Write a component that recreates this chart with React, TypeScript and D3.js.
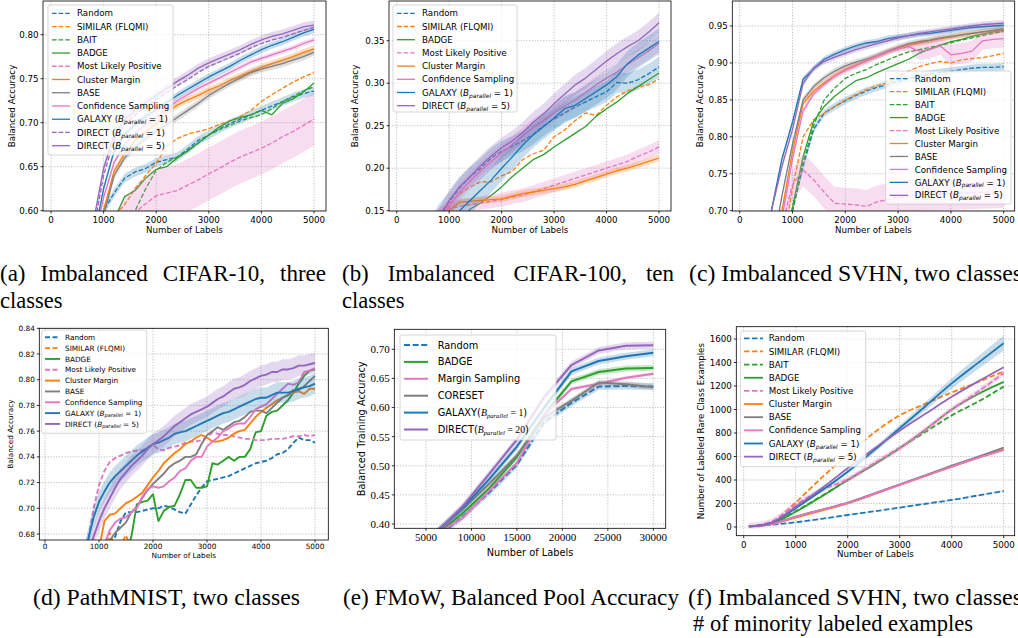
import React from 'react';
import * as d3 from 'd3';

const BLUE = '#1f77b4';
const ORANGE = '#ff7f0e';
const GREEN = '#2ca02c';
const PINK = '#e377c2';
const GRAY = '#7f7f7f';
const PURPLE = '#9467bd';

const SERIF = "'Liberation Serif', 'Times New Roman', Times, serif";
const SANS = "'DejaVu Sans', sans-serif";

const L_RANDOM = 'Random';
const L_SIMILAR = 'SIMILAR (FLQMI)';
const L_BAIT = 'BAIT';
const L_BADGE = 'BADGE';
const L_MLP = 'Most Likely Positive';
const L_CLUSTER = 'Cluster Margin';
const L_BASE = 'BASE';
const L_CONF = 'Confidence Sampling';
const L_GALAXY = 'GALAXY (B_parallel = 1)';
const L_DIRECT1 = 'DIRECT (B_parallel = 1)';
const L_DIRECT5 = 'DIRECT (B_parallel = 5)';

// ---------- shared x grid (a, b, c) ----------
const x200 = [600, 800, 1000, 1200, 1400, 1600, 1800, 2000, 2200, 2400, 2600, 2800, 3000, 3200, 3400, 3600, 3800, 4000, 4200, 4400, 4600, 4800, 5000];
const ticks0to5000 = [0, 1000, 2000, 3000, 4000, 5000];

// ---------- (a) Imbalanced CIFAR-10 ----------
const aRandom = [0.50, 0.55, 0.60, 0.62, 0.637, 0.644, 0.648, 0.655, 0.658, 0.661, 0.670, 0.680, 0.686, 0.693, 0.699, 0.704, 0.709, 0.714, 0.719, 0.724, 0.729, 0.733, 0.736];
const aSimilar = [0.45, 0.50, 0.55, 0.594, 0.607, 0.625, 0.640, 0.654, 0.673, 0.682, 0.687, 0.690, 0.693, 0.698, 0.702, 0.707, 0.714, 0.724, 0.732, 0.739, 0.746, 0.752, 0.757];
const aBait = [0.40, 0.44, 0.48, 0.52, 0.56, 0.60, 0.625, 0.646, 0.655, 0.661, 0.668, 0.677, 0.686, 0.692, 0.697, 0.702, 0.706, 0.709, 0.716, 0.724, 0.730, 0.736, 0.741];
const aBadge = [0.45, 0.50, 0.55, 0.59, 0.616, 0.623, 0.637, 0.647, 0.650, 0.660, 0.668, 0.677, 0.686, 0.695, 0.702, 0.706, 0.709, 0.714, 0.709, 0.722, 0.727, 0.735, 0.745];
const aMLP = [0.50, 0.52, 0.54, 0.56, 0.585, 0.598, 0.608, 0.617, 0.620, 0.623, 0.629, 0.635, 0.642, 0.648, 0.655, 0.661, 0.666, 0.671, 0.677, 0.684, 0.690, 0.697, 0.704];
const aCluster = [0.48, 0.54, 0.60, 0.645, 0.665, 0.680, 0.690, 0.699, 0.712, 0.720, 0.726, 0.731, 0.737, 0.742, 0.748, 0.753, 0.758, 0.763, 0.767, 0.771, 0.775, 0.780, 0.784];
const aBase = [0.47, 0.53, 0.595, 0.64, 0.66, 0.672, 0.682, 0.690, 0.698, 0.706, 0.714, 0.722, 0.731, 0.738, 0.745, 0.751, 0.757, 0.761, 0.764, 0.767, 0.771, 0.775, 0.780];
const aConf = [0.50, 0.56, 0.615, 0.655, 0.675, 0.688, 0.698, 0.706, 0.716, 0.725, 0.732, 0.739, 0.745, 0.751, 0.757, 0.763, 0.769, 0.773, 0.777, 0.781, 0.785, 0.790, 0.794];
const aGalaxy = [0.50, 0.565, 0.625, 0.668, 0.687, 0.698, 0.707, 0.715, 0.723, 0.731, 0.738, 0.745, 0.752, 0.758, 0.764, 0.771, 0.777, 0.783, 0.788, 0.792, 0.797, 0.802, 0.806];
const aDirect1 = [0.51, 0.575, 0.64, 0.68, 0.698, 0.709, 0.718, 0.726, 0.734, 0.742, 0.749, 0.757, 0.764, 0.769, 0.774, 0.779, 0.785, 0.790, 0.794, 0.797, 0.801, 0.805, 0.808];
const aDirect5 = [0.52, 0.585, 0.648, 0.686, 0.703, 0.714, 0.723, 0.731, 0.739, 0.747, 0.754, 0.762, 0.768, 0.773, 0.778, 0.783, 0.789, 0.794, 0.798, 0.801, 0.805, 0.809, 0.811];

// ---------- (b) Imbalanced CIFAR-100 ----------
const bRandom = [0.125, 0.145, 0.160, 0.177, 0.190, 0.200, 0.212, 0.220, 0.226, 0.232, 0.240, 0.250, 0.258, 0.265, 0.272, 0.278, 0.284, 0.290, 0.301, 0.300, 0.304, 0.311, 0.319];
const bSimilar = [0.12, 0.14, 0.158, 0.170, 0.178, 0.184, 0.184, 0.191, 0.196, 0.210, 0.217, 0.221, 0.237, 0.245, 0.256, 0.265, 0.262, 0.274, 0.284, 0.291, 0.296, 0.298, 0.305];
const bBadge = [0.09, 0.10, 0.115, 0.135, 0.152, 0.159, 0.168, 0.178, 0.190, 0.200, 0.210, 0.216, 0.225, 0.233, 0.241, 0.249, 0.261, 0.270, 0.278, 0.288, 0.296, 0.304, 0.312];
const bMLP = [0.13, 0.145, 0.153, 0.155, 0.157, 0.159, 0.161, 0.163, 0.166, 0.168, 0.172, 0.176, 0.180, 0.184, 0.188, 0.192, 0.196, 0.200, 0.204, 0.208, 0.214, 0.219, 0.225];
const bCluster = [0.12, 0.135, 0.150, 0.160, 0.161, 0.162, 0.163, 0.164, 0.167, 0.170, 0.172, 0.174, 0.176, 0.178, 0.181, 0.185, 0.189, 0.193, 0.197, 0.200, 0.204, 0.208, 0.212];
const bConf = [0.125, 0.14, 0.155, 0.172, 0.185, 0.197, 0.208, 0.218, 0.228, 0.238, 0.248, 0.256, 0.265, 0.273, 0.280, 0.289, 0.298, 0.306, 0.313, 0.322, 0.330, 0.338, 0.347];
const bGalaxy = [0.11, 0.125, 0.135, 0.150, 0.162, 0.174, 0.186, 0.200, 0.213, 0.227, 0.239, 0.249, 0.259, 0.270, 0.274, 0.282, 0.290, 0.298, 0.308, 0.323, 0.333, 0.341, 0.349];
const bDirect5 = [0.125, 0.14, 0.162, 0.178, 0.190, 0.203, 0.214, 0.224, 0.232, 0.242, 0.254, 0.264, 0.276, 0.287, 0.298, 0.306, 0.316, 0.326, 0.335, 0.343, 0.350, 0.360, 0.371];

// ---------- (c) Imbalanced SVHN ----------
const cRandom = [0.55, 0.62, 0.70, 0.76, 0.81, 0.832, 0.841, 0.849, 0.856, 0.862, 0.867, 0.871, 0.875, 0.879, 0.882, 0.885, 0.887, 0.889, 0.891, 0.893, 0.894, 0.894, 0.895];
const cSimilar = [0.58, 0.65, 0.73, 0.800, 0.823, 0.832, 0.841, 0.850, 0.857, 0.864, 0.869, 0.873, 0.882, 0.889, 0.895, 0.899, 0.902, 0.900, 0.904, 0.906, 0.907, 0.910, 0.913];
const cBait = [0.55, 0.62, 0.70, 0.765, 0.815, 0.850, 0.866, 0.879, 0.886, 0.891, 0.898, 0.904, 0.910, 0.915, 0.918, 0.921, 0.924, 0.927, 0.931, 0.934, 0.937, 0.940, 0.943];
const cBadge = [0.58, 0.65, 0.705, 0.773, 0.821, 0.841, 0.855, 0.866, 0.876, 0.880, 0.887, 0.893, 0.899, 0.905, 0.913, 0.919, 0.924, 0.929, 0.932, 0.936, 0.939, 0.942, 0.944];
const cMLP = [0.62, 0.68, 0.735, 0.755, 0.742, 0.725, 0.710, 0.709, 0.708, 0.706, 0.712, 0.715, 0.718, 0.720, 0.722, 0.722, 0.723, 0.723, 0.724, 0.724, 0.725, 0.725, 0.726];
const cCluster = [0.62, 0.70, 0.78, 0.845, 0.862, 0.873, 0.883, 0.891, 0.897, 0.903, 0.909, 0.915, 0.920, 0.924, 0.927, 0.930, 0.933, 0.935, 0.938, 0.940, 0.942, 0.943, 0.945];
const cBase = [0.64, 0.72, 0.79, 0.850, 0.868, 0.880, 0.889, 0.896, 0.901, 0.905, 0.910, 0.916, 0.921, 0.926, 0.929, 0.931, 0.934, 0.936, 0.938, 0.940, 0.942, 0.944, 0.946];
const cConf = [0.61, 0.69, 0.77, 0.835, 0.858, 0.871, 0.882, 0.890, 0.896, 0.903, 0.909, 0.915, 0.919, 0.922, 0.916, 0.918, 0.923, 0.911, 0.913, 0.916, 0.930, 0.932, 0.933];
const cConfBand = [0.004, 0.004, 0.004, 0.004, 0.004, 0.004, 0.004, 0.004, 0.004, 0.004, 0.004, 0.004, 0.004, 0.005, 0.012, 0.012, 0.012, 0.014, 0.014, 0.014, 0.012, 0.012, 0.012];
const cGalaxy = [0.70, 0.77, 0.82, 0.878, 0.892, 0.905, 0.912, 0.918, 0.923, 0.927, 0.929, 0.933, 0.935, 0.937, 0.939, 0.940, 0.942, 0.944, 0.946, 0.948, 0.949, 0.950, 0.951];
const cDirect5 = [0.70, 0.76, 0.81, 0.872, 0.893, 0.902, 0.908, 0.913, 0.918, 0.922, 0.926, 0.930, 0.934, 0.937, 0.940, 0.942, 0.944, 0.946, 0.948, 0.950, 0.952, 0.953, 0.954];

// ---------- (d) PathMNIST ----------
const xD = [700, 800, 900, 1000, 1100, 1200, 1300, 1400, 1500, 1600, 1700, 1800, 1900, 2000, 2100, 2200, 2300, 2400, 2500, 2600, 2700, 2800, 2900, 3000, 3100, 3200, 3300, 3400, 3500, 3600, 3700, 3800, 3900, 4000, 4100, 4200, 4300, 4400, 4500, 4600, 4700, 4800, 4900, 5000];
const dRandom = [null, null, null, null, null, 0.660, 0.678, 0.690, 0.697, 0.697, 0.697, 0.698, 0.699, 0.700, 0.700, 0.702, 0.701, 0.699, 0.697, 0.696, 0.703, 0.710, 0.716, 0.721, 0.722, 0.723, 0.724, 0.725, 0.727, 0.729, 0.731, 0.733, 0.735, 0.736, 0.737, 0.739, 0.742, 0.743, 0.746, 0.751, 0.755, 0.753, 0.753, 0.751];
const dSimilar = [null, null, null, null, 0.662, 0.681, 0.669, 0.671, 0.679, 0.668, 0.660, null, null, null, null, null, null, null, null, null, null, null, null, null, null, null, null, null, null, null, null, null, null, null, null, null, null, null, null, null, null, null, null, null];
const dBadge = [null, null, null, null, null, null, null, 0.640, 0.665, 0.678, 0.703, 0.705, 0.706, 0.711, 0.690, 0.698, 0.701, 0.702, 0.711, 0.722, 0.722, 0.716, 0.716, 0.717, 0.735, 0.734, 0.737, 0.740, 0.737, 0.740, 0.740, 0.746, 0.759, 0.760, 0.772, 0.775, 0.776, 0.780, 0.784, 0.790, 0.797, 0.803, 0.807, 0.808];
const dMLP = [0.660, 0.676, 0.700, 0.718, 0.729, 0.736, 0.739, 0.741, 0.743, 0.744, 0.745, 0.745, 0.747, 0.749, 0.746, 0.745, 0.747, 0.748, 0.749, 0.751, 0.752, 0.752, 0.753, 0.755, 0.759, 0.758, 0.757, 0.757, 0.756, 0.755, 0.754, 0.754, 0.753, 0.753, 0.753, 0.754, 0.754, 0.754, 0.755, 0.756, 0.756, 0.757, 0.756, 0.757];
const dCluster = [null, null, 0.640, 0.668, 0.690, 0.695, 0.696, 0.700, 0.704, 0.706, 0.709, 0.712, 0.718, 0.724, 0.729, 0.735, 0.739, 0.743, 0.746, 0.750, 0.752, 0.755, 0.757, 0.755, 0.752, 0.752, 0.753, 0.755, 0.758, 0.760, 0.761, 0.766, 0.771, 0.775, 0.778, 0.781, 0.784, 0.786, 0.788, 0.790, 0.791, 0.789, 0.793, 0.793];
const dBase = [null, null, null, null, 0.660, 0.675, 0.681, 0.685, 0.689, 0.697, 0.701, 0.708, 0.714, 0.719, 0.723, 0.727, 0.732, 0.735, 0.737, 0.740, 0.740, 0.742, 0.750, 0.757, 0.760, 0.763, 0.761, 0.764, 0.767, 0.768, 0.771, 0.775, 0.776, 0.776, 0.774, 0.778, 0.782, 0.786, 0.788, 0.792, 0.792, 0.795, 0.799, 0.803];
const dConf = [null, null, null, 0.655, 0.672, 0.683, 0.689, 0.692, 0.693, 0.697, 0.700, 0.709, 0.715, 0.717, 0.716, 0.717, 0.721, 0.724, 0.729, 0.731, 0.737, 0.740, 0.740, 0.748, 0.752, 0.755, 0.760, 0.762, 0.765, 0.766, 0.766, 0.771, 0.777, 0.779, 0.781, 0.785, 0.789, 0.793, 0.797, 0.796, 0.798, 0.806, 0.807, 0.809];
const dGalaxy = [0.660, 0.676, 0.693, 0.705, 0.713, 0.720, 0.725, 0.729, 0.733, 0.737, 0.741, 0.744, 0.747, 0.750, 0.751, 0.753, 0.755, 0.758, 0.759, 0.760, 0.762, 0.764, 0.766, 0.768, 0.770, 0.772, 0.774, 0.775, 0.777, 0.779, 0.781, 0.783, 0.785, 0.786, 0.786, 0.788, 0.790, 0.790, 0.790, 0.791, 0.793, 0.794, 0.795, 0.797];
const dDirect5 = [0.655, 0.665, 0.678, 0.690, 0.700, 0.708, 0.716, 0.723, 0.728, 0.733, 0.737, 0.741, 0.746, 0.750, 0.753, 0.756, 0.760, 0.764, 0.767, 0.770, 0.773, 0.775, 0.777, 0.779, 0.782, 0.785, 0.787, 0.790, 0.793, 0.794, 0.796, 0.799, 0.801, 0.803, 0.804, 0.806, 0.806, 0.808, 0.808, 0.809, 0.811, 0.811, 0.812, 0.813];

// ---------- (e) FMoW ----------
const xE = [6000, 9000, 12000, 15000, 18000, 21000, 24000, 27000, 30000];
const eRandom = [0.375, 0.412, 0.455, 0.502, 0.575, 0.608, 0.636, 0.637, 0.636];
const eBadge = [0.380, 0.418, 0.462, 0.515, 0.588, 0.645, 0.661, 0.667, 0.668];
const eMargin = [0.381, 0.410, 0.458, 0.505, 0.588, 0.632, 0.641, 0.651, 0.658];
const eCoreset = [0.385, 0.425, 0.470, 0.518, 0.583, 0.612, 0.643, 0.640, 0.635];
const eGalaxy = [0.384, 0.427, 0.478, 0.533, 0.600, 0.662, 0.680, 0.688, 0.694];
const eDirect20 = [0.383, 0.430, 0.487, 0.545, 0.618, 0.673, 0.698, 0.706, 0.707];

// ---------- (f) Imbalanced SVHN, rare-class counts ----------
const xF = [100, 500, 1000, 1500, 2000, 2500, 3000, 3500, 4000, 4500, 5000];
const fRandom = [5, 18, 40, 70, 102, 133, 165, 198, 230, 268, 306];
const fSimilar = [5, 35, 210, 420, 615, 800, 950, 1050, 1145, 1232, 1325];
const fBait = [5, 25, 135, 265, 400, 535, 675, 810, 950, 1065, 1195];
const fBadge = [5, 25, 130, 260, 400, 530, 670, 830, 1000, 1130, 1235];
const fMLP = [8, 40, 190, 315, 405, 540, 670, 830, 1000, 1150, 1310];
const fCluster = [5, 20, 80, 140, 200, 278, 358, 435, 512, 588, 660];
const fBase = [5, 22, 88, 148, 207, 285, 363, 442, 522, 598, 675];
const fConf = [5, 22, 86, 145, 203, 280, 358, 436, 514, 588, 655];
const fGalaxy = [5, 30, 160, 310, 470, 650, 840, 1030, 1222, 1395, 1565];
const fGalaxyBand = [2, 5, 8, 12, 16, 22, 28, 36, 45, 55, 65];
const fDirect5 = [5, 32, 172, 330, 500, 665, 820, 965, 1108, 1237, 1360];

type Series = { label: string; color: string; dash: boolean; xs: number[]; ys: (number | null)[]; band: number | number[] };
const S = (label: string, color: string, dash: boolean, xs: number[], ys: (number | null)[], band: number | number[]): Series => ({ label, color, dash, xs, ys, band });

const panels: any[] = [
  {
    id: 'a', box: { l: 43, t: 1, r: 326, b: 211 }, xRef: [0, 5000], xPx: [51, 314], yRef: [0.6, 0.8], yPx: [210.7, 34.7],
    xTicks: ticks0to5000, yTicks: [0.6, 0.65, 0.7, 0.75, 0.8], yFmt: '.2f', fs: 8.7, lfs: 8.7, lw: 1.3, dashArr: '4.6,2', tickFont: SANS, labelFont: SANS, mathFont: SANS,
    xlabel: 'Number of Labels', xlabelY: 233, ylabel: 'Balanced Accuracy', ylabelX: 15, xTickY: 223,
    legend: { x: 48, y: 5, w: 125, h: 150, row0: 13.3, rowH: 13.24, h0: 52, h1: 70, tx: 77, fs: 8.7 },
    series: [
      S(L_RANDOM, BLUE, true, x200, aRandom, 0.005),
      S(L_SIMILAR, ORANGE, true, x200, aSimilar, 0),
      S(L_BAIT, GREEN, true, x200, aBait, 0),
      S(L_BADGE, GREEN, false, x200, aBadge, 0),
      S(L_MLP, PINK, true, x200, aMLP, 0.03),
      S(L_CLUSTER, ORANGE, false, x200, aCluster, 0.004),
      S(L_BASE, GRAY, false, x200, aBase, 0.004),
      S(L_CONF, PINK, false, x200, aConf, 0.003),
      S(L_GALAXY, BLUE, false, x200, aGalaxy, 0.004),
      S(L_DIRECT1, PURPLE, true, x200, aDirect1, 0),
      S(L_DIRECT5, PURPLE, false, x200, aDirect5, 0.005),
    ],
  },
  {
    id: 'b', box: { l: 389, t: 1, r: 671, b: 211 }, xRef: [0, 5000], xPx: [396.7, 659], yRef: [0.15, 0.35], yPx: [210.7, 40.7],
    xTicks: ticks0to5000, yTicks: [0.15, 0.2, 0.25, 0.3, 0.35], yFmt: '.2f', fs: 8.7, lfs: 8.7, lw: 1.3, dashArr: '4.6,2', tickFont: SANS, labelFont: SANS, mathFont: SANS,
    xlabel: 'Number of Labels', xlabelY: 233, ylabel: 'Balanced Accuracy', ylabelX: 358, xTickY: 223,
    legend: { x: 393, y: 5, w: 124, h: 107, row0: 13.3, rowH: 13.2, h0: 397, h1: 415, tx: 422, fs: 8.7 },
    series: [
      S(L_RANDOM, BLUE, true, x200, bRandom, 0.012),
      S(L_SIMILAR, ORANGE, true, x200, bSimilar, 0),
      S(L_BADGE, GREEN, false, x200, bBadge, 0),
      S(L_MLP, PINK, true, x200, bMLP, 0.008),
      S(L_CLUSTER, ORANGE, false, x200, bCluster, 0.004),
      S(L_CONF, PINK, false, x200, bConf, 0.01),
      S(L_GALAXY, BLUE, false, x200, bGalaxy, 0.015),
      S(L_DIRECT5, PURPLE, false, x200, bDirect5, 0.012),
    ],
  },
  {
    id: 'c', box: { l: 732.3, t: 1, r: 1014.7, b: 211 }, xRef: [0, 5000], xPx: [739.7, 1003.7], yRef: [0.7, 0.95], yPx: [210.7, 26],
    xTicks: ticks0to5000, yTicks: [0.7, 0.75, 0.8, 0.85, 0.9, 0.95], yFmt: '.2f', fs: 8.7, lfs: 8.7, lw: 1.3, dashArr: '4.6,2', tickFont: SANS, labelFont: SANS, mathFont: SANS,
    xlabel: 'Number of Labels', xlabelY: 233, ylabel: 'Balanced Accuracy', ylabelX: 703, xTickY: 223,
    legend: { x: 885.7, y: 71, w: 125.3, h: 133, row0: 78.7, rowH: 12.96, h0: 889.7, h1: 908, tx: 914.7, fs: 8.7 },
    series: [
      S(L_RANDOM, BLUE, true, x200, cRandom, 0.005),
      S(L_SIMILAR, ORANGE, true, x200, cSimilar, 0),
      S(L_BAIT, GREEN, true, x200, cBait, 0),
      S(L_BADGE, GREEN, false, x200, cBadge, 0),
      S(L_MLP, PINK, true, x200, cMLP, 0.022),
      S(L_CLUSTER, ORANGE, false, x200, cCluster, 0.004),
      S(L_BASE, GRAY, false, x200, cBase, 0.004),
      S(L_CONF, PINK, false, x200, cConf, cConfBand),
      S(L_GALAXY, BLUE, false, x200, cGalaxy, 0.004),
      S(L_DIRECT5, PURPLE, false, x200, cDirect5, 0.004),
    ],
  },
  {
    id: 'd', box: { l: 39.3, t: 328.3, r: 328.3, b: 540 }, xRef: [0, 5000], xPx: [45, 315], yRef: [0.68, 0.84], yPx: [534, 328.3],
    xTicks: ticks0to5000, yTicks: [0.68, 0.7, 0.72, 0.74, 0.76, 0.78, 0.8, 0.82, 0.84], yFmt: '.2f', fs: 7.3, lfs: 7.3, lw: 1.9, dashArr: '5,2.5', tickFont: SANS, labelFont: SANS, mathFont: SANS,
    xlabel: 'Number of Labels', xlabelY: 558, ylabel: 'Balanced Accuracy', ylabelX: 12.5, xTickY: 548.5,
    legend: { x: 41.7, y: 330, w: 105, h: 103.3, row0: 337.3, rowH: 10.83, h0: 45, h1: 60, tx: 65, fs: 7.3 },
    series: [
      S(L_RANDOM, BLUE, true, xD, dRandom, 0),
      S(L_SIMILAR, ORANGE, true, xD, dSimilar, 0),
      S(L_BADGE, GREEN, false, xD, dBadge, 0),
      S(L_MLP, PINK, true, xD, dMLP, 0),
      S(L_CLUSTER, ORANGE, false, xD, dCluster, 0),
      S(L_BASE, GRAY, false, xD, dBase, 0),
      S(L_CONF, PINK, false, xD, dConf, 0),
      S(L_GALAXY, BLUE, false, xD, dGalaxy, 0.008),
      S(L_DIRECT5, PURPLE, false, xD, dDirect5, 0.008),
    ],
  },
  {
    id: 'e', box: { l: 394.3, t: 329.3, r: 665.7, b: 528.3 }, xRef: [5000, 30000], xPx: [426, 653.3], yRef: [0.4, 0.7], yPx: [524, 349.3],
    xTicks: [5000, 10000, 15000, 20000, 25000, 30000], yTicks: [0.4, 0.45, 0.5, 0.55, 0.6, 0.65, 0.7], yFmt: '.2f', fs: 11, lfs: 9.8, lw: 2, dashArr: '6,2.6', tickFont: SERIF, labelFont: SANS, mathFont: SERIF,
    xlabel: 'Number of Labels', xlabelY: 556, ylabel: 'Balanced Training Accuracy', ylabelX: 365, xTickY: 541,
    legend: { x: 400, y: 335, w: 156, h: 105, row0: 345, rowH: 16.9, h0: 404, h1: 428, tx: 437.7, fs: 9.8 },
    series: [
      S(L_RANDOM, BLUE, true, xE, eRandom, 0.006),
      S(L_BADGE, GREEN, false, xE, eBadge, 0.005),
      S('Margin Sampling', PINK, false, xE, eMargin, 0.003),
      S('CORESET', GRAY, false, xE, eCoreset, 0.005),
      S('GALAXY(B_parallel = 1)', BLUE, false, xE, eGalaxy, 0.006),
      S('DIRECT(B_parallel = 20)', PURPLE, false, xE, eDirect20, 0.006),
    ],
  },
  {
    id: 'f', box: { l: 736.3, t: 326.7, r: 1014.7, b: 535.7 }, xRef: [0, 5000], xPx: [743.7, 1003.7], yRef: [0, 1600], yPx: [527, 339],
    xTicks: ticks0to5000, yTicks: [0, 200, 400, 600, 800, 1000, 1200, 1400, 1600], yFmt: 'd', fs: 8.7, lfs: 8.7, lw: 1.8, dashArr: '5.5,2.5', tickFont: SANS, labelFont: SANS, mathFont: SANS, smooth: true,
    xlabel: 'Number of Labels', xlabelY: 557, ylabel: 'Number of Labeled Rare Class Examples', ylabelX: 704, xTickY: 548,
    legend: { x: 740.7, y: 331, w: 125, h: 135.7, row0: 338.3, rowH: 13.15, h0: 744, h1: 763, tx: 768.7, fs: 8.7 },
    series: [
      S(L_RANDOM, BLUE, true, xF, fRandom, 4),
      S(L_SIMILAR, ORANGE, true, xF, fSimilar, 0),
      S(L_BAIT, GREEN, true, xF, fBait, 0),
      S(L_BADGE, GREEN, false, xF, fBadge, 0),
      S(L_MLP, PINK, true, xF, fMLP, 25),
      S(L_CLUSTER, ORANGE, false, xF, fCluster, 4),
      S(L_BASE, GRAY, false, xF, fBase, 4),
      S(L_CONF, PINK, false, xF, fConf, 4),
      S(L_GALAXY, BLUE, false, xF, fGalaxy, fGalaxyBand),
      S(L_DIRECT5, PURPLE, false, xF, fDirect5, 6),
    ],
  },
];

const captions = [
  { text: '(a) Imbalanced CIFAR-10, three', x: 0, y: 281, w: 326, ws: 9 },
  { text: 'classes', x: 0, y: 308, w: 0, ws: 0 },
  { text: '(b) Imbalanced CIFAR-100, ten', x: 342, y: 281, w: 332, ws: 13 },
  { text: 'classes', x: 342, y: 308, w: 0, ws: 0 },
  { text: '(c) Imbalanced SVHN, two classes', x: 689, y: 281, w: 333, ws: 0 },
  { text: '(d) PathMNIST, two classes', x: 33, y: 605, w: 267, ws: 0 },
  { text: '(e) FMoW, Balanced Pool Accuracy', x: 343, y: 605, w: 336, ws: 0 },
  { text: '(f) Imbalanced SVHN, two classes', x: 688, y: 605, w: 334, ws: 0 },
  { text: '# of minority labeled examples', x: 693, y: 631, w: 280, ws: 0 },
];

function MathText({ text, x, y, fs, font, mathFont }: any) {
  const m = text.match(/^(.*?)B_(\w+)(\s*=\s*\d+)(.*)$/);
  if (!m) return <text x={x} y={y} fontSize={fs} style={{ whiteSpace: 'pre', fontFamily: font }}>{text}</text>;
  const dy = fs * 0.22;
  return (
    <text x={x} y={y} fontSize={fs} style={{ whiteSpace: 'pre', fontFamily: font }}>
      <tspan>{m[1]}</tspan>
      <tspan fontStyle="italic" style={{ fontFamily: mathFont }}>B</tspan>
      <tspan fontStyle="italic" fontSize={fs * 0.68} dy={dy} style={{ fontFamily: mathFont }}>{m[2]}</tspan>
      <tspan dy={-dy} style={{ fontFamily: mathFont }}>{m[3]}</tspan>
      <tspan>{m[4]}</tspan>
    </text>
  );
}

function Panel({ p }: any) {
  const x = d3.scaleLinear().domain(p.xRef).range(p.xPx);
  const y = d3.scaleLinear().domain(p.yRef).range(p.yPx);
  const { l, t, r, b } = p.box;
  const curve = p.smooth ? d3.curveMonotoneX : d3.curveLinear;
  const fmtY = d3.format(p.yFmt);
  const fmtX = d3.format('d');
  const clip = 'clip-' + p.id;
  const yT = p.yTicks.filter((v: number) => y(v) >= t - 0.8 && y(v) <= b + 0.8);
  const xT = p.xTicks.filter((v: number) => x(v) >= l - 0.8 && x(v) <= r + 0.8);
  const lg = p.legend;
  return (
    <g fill="#000">
      <defs>
        <clipPath id={clip}><rect x={l} y={t} width={r - l} height={b - t} /></clipPath>
      </defs>
      <rect x={l} y={t} width={r - l} height={b - t} fill="#fff" />
      <g stroke="#b0b0b0" strokeWidth={0.8} strokeDasharray="1.2,1.6">
        {xT.map((v: number) => <line key={'gx' + v} x1={x(v)} x2={x(v)} y1={t} y2={b} />)}
        {yT.map((v: number) => <line key={'gy' + v} x1={l} x2={r} y1={y(v)} y2={y(v)} />)}
      </g>
      <g clipPath={`url(#${clip})`}>
        {p.series.map((s: Series, i: number) => {
          const pts = s.xs.map((xv, j) => ({ x: xv, y: s.ys[j], bw: Array.isArray(s.band) ? s.band[j] : s.band }));
          const area = d3.area<any>().defined((d) => d.y != null).x((d) => x(d.x)).y0((d) => y(d.y - d.bw)).y1((d) => y(d.y + d.bw)).curve(curve);
          const line = d3.line<any>().defined((d) => d.y != null).x((d) => x(d.x)).y((d) => y(d.y)).curve(curve);
          const hasBand = Array.isArray(s.band) || (s.band as number) > 0;
          return (
            <g key={i}>
              {hasBand ? <path d={area(pts) || ''} fill={s.color} fillOpacity={0.25} stroke="none" /> : null}
              <path d={line(pts) || ''} fill="none" stroke={s.color} strokeWidth={p.lw} strokeDasharray={s.dash ? p.dashArr : undefined} strokeLinejoin="round" />
            </g>
          );
        })}
      </g>
      <rect x={l} y={t} width={r - l} height={b - t} fill="none" stroke="#000" strokeWidth={0.8} />
      <g stroke="#000" strokeWidth={0.8}>
        {xT.map((v: number) => <line key={'tx' + v} x1={x(v)} x2={x(v)} y1={b} y2={b + 2.5} />)}
        {yT.map((v: number) => <line key={'ty' + v} x1={l} x2={l - 2.5} y1={y(v)} y2={y(v)} />)}
      </g>
      <g fontSize={p.fs} style={{ fontFamily: p.tickFont }}>
        {xT.map((v: number) => <text key={'lx' + v} x={x(v)} y={p.xTickY} textAnchor="middle">{fmtX(v)}</text>)}
        {yT.map((v: number) => <text key={'ly' + v} x={l - 4.5} y={y(v) + p.fs * 0.35} textAnchor="end">{fmtY(v)}</text>)}
      </g>
      <text x={(l + r) / 2} y={p.xlabelY} fontSize={p.lfs} textAnchor="middle" style={{ fontFamily: p.labelFont }}>{p.xlabel}</text>
      <text transform={`translate(${p.ylabelX},${(t + b) / 2}) rotate(-90)`} fontSize={p.lfs} textAnchor="middle" style={{ fontFamily: p.labelFont }}>{p.ylabel}</text>
      <g>
        <rect x={lg.x} y={lg.y} width={lg.w} height={lg.h} rx={2} fill="#fff" fillOpacity={0.8} stroke="#cccccc" strokeWidth={0.8} />
        {p.series.map((s: Series, i: number) => {
          const ry = lg.row0 + i * lg.rowH;
          return (
            <g key={'lg' + i}>
              <line x1={lg.h0} x2={lg.h1} y1={ry} y2={ry} stroke={s.color} strokeWidth={p.lw} strokeDasharray={s.dash ? p.dashArr : undefined} />
              <MathText text={s.label} x={lg.tx} y={ry + lg.fs * 0.36} fs={lg.fs} font={p.labelFont} mathFont={p.mathFont} />
            </g>
          );
        })}
      </g>
    </g>
  );
}

export default function App() {
  return (
    <svg width={1018} height={638} viewBox="0 0 1018 638" style={{ position: 'absolute', left: 0, top: 0, background: '#fff' }}>
      <rect x={0} y={0} width={1018} height={638} fill="#fff" />
      {panels.map((p) => <Panel key={p.id} p={p} />)}
      <g fontSize={22.5} fill="#000" style={{ fontFamily: SERIF }}>
        {captions.map((c, i) => (
          c.w > 0 ? (
            <text key={i} x={c.x} y={c.y} textLength={c.w} lengthAdjust="spacingAndGlyphs" style={{ whiteSpace: 'pre', wordSpacing: c.ws + 'px' }}>{c.text}</text>
          ) : (
            <text key={i} x={c.x} y={c.y} style={{ whiteSpace: 'pre' }}>{c.text}</text>
          )
        ))}
      </g>
    </svg>
  );
}
